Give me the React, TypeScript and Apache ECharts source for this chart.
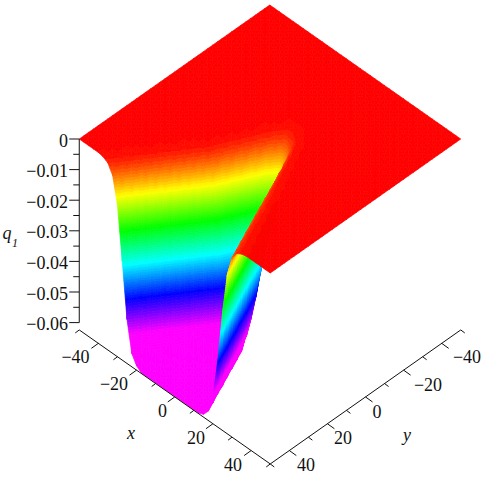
import React, { useEffect, useRef } from "react";
import * as echarts from "echarts";

// Surface samples: q1 depth in units of 0.001 on a 2.5-spaced grid.
const gridX = Array.from({ length: 41 }, (_, i) => -50 + 2.5 * i);
const gridY = Array.from({ length: 41 }, (_, j) => -50 + 2.5 * j);
const floorDepth = 62.2;
const depthUnit = 0.001;
const rowY = [50, 47.5, 45, 42.5, 40, 37.5, 35, 32.5, 30, 27.5, 25, 22.5, 20, 17.5, 15, 12.5, 10, 7.5, 5, 2.5, 0, -2.5, -5, -7.5, -10];
// each row: [first x index, depths...] wall stretches; floorDepth lies between two stretches, 0 elsewhere
const rowWalls: number[][][] = [
  [[5, 0.35, 1.3, 4.3, 12.8, 30, 48, 58, 61], [26, 61.5, 59.4, 53.8, 41, 24, 10.5, 3.8, 1.3, 0.4]],
  [[6, 0.5, 1.8, 6, 17.4, 36, 52, 59], [26, 60.8, 57.6, 49.4, 35, 17.4, 6.9, 2.3, 0.8, 0.3]],
  [[7, 0.75, 2.6, 8.5, 22.4, 42, 55, 60], [26, 59.8, 55, 42.8, 26, 11.8, 4.3, 1.5, 0.5]],
  [[7, 0.3, 1, 3.8, 11.4, 28, 47, 57, 61], [25, 61, 58, 51, 36.6, 19.2, 7.8, 2.6, 0.9, 0.3]],
  [[8, 0.4, 1.6, 5.3, 15.6, 34, 51, 59, 61], [25, 60.1, 55.2, 45, 28.9, 13.3, 5, 1.7, 0.6]],
  [[9, 0.65, 2.2, 7.3, 20, 40, 54, 60], [24, 61.2, 58.8, 52.3, 38, 21, 8.9, 3, 1, 0.3]],
  [[10, 0.9, 3.2, 10, 25.8, 45, 56, 61], [24, 60.5, 56.5, 47.2, 31, 15.2, 5.6, 1.9, 0.7]],
  [[10, 0.35, 1.4, 4.6, 13.6, 31, 49, 58, 61], [23, 61.4, 59.2, 53.2, 40.6, 23, 10, 3.6, 1.2, 0.4]],
  [[11, 0.55, 1.9, 6.4, 18.3, 37, 53, 59], [23, 60.7, 57.1, 48.5, 33, 16.7, 6.5, 2.1, 0.8]],
  [[12, 0.8, 2.7, 9, 23.3, 43, 55, 60], [22, 61.7, 59.7, 54.3, 42.4, 25, 11.2, 4, 1.4, 0.5]],
  [[12, 0.3, 1.1, 4, 12, 29, 47, 57, 61], [22, 60.9, 58, 50, 35.6, 18.4, 7.4, 2.5, 0.9]],
  [[13, 0.5, 1.7, 5.7, 16.3, 35, 51, 59], [21, 61.8, 60, 55.1, 44.4, 27.5, 12.5, 4.8, 1.6, 0.5]],
  [[14, 0.7, 2.3, 7.8, 21, 40, 54, 60], [21, 61.2, 58.5, 51.2, 37.5, 20.3, 8.4, 3, 1, 0.3]],
  [[15, 1.1, 4, 14, 31, 48, 58, 58, 54, 46, 31, 15.2, 5.5, 1.8, 0.6]],
  [[15, 0.8, 2.3, 8, 21, 40, 54, 57, 50, 40, 26, 10.8, 3.5, 1, 0.3]],
  [[16, 1.3, 4, 14, 31, 47, 50, 44, 34, 20, 7, 2, 0.5]],
  [[16, 0.8, 2.3, 8, 21, 38, 44, 37, 28, 14, 4.1, 1.1, 0.2]],
  [[17, 1.3, 4, 14, 29, 37, 30, 20, 9.1, 2.2, 0.5]],
  [[17, 0.8, 2.3, 8, 20, 28, 27, 14, 5.2, 1.2, 0.2]],
  [[18, 1.3, 4, 13.7, 23, 22, 10, 2.6, 0.5]],
  [[18, 0.8, 2.3, 7.8, 15, 15, 5.5, 1.2, 0.2]],
  [[18, 0.3, 1.3, 3.8, 9.5, 7.5, 2.6, 0.5]],
  [[19, 0.8, 2, 4.2, 3, 1, 0.2]],
  [[20, 1, 1.3, 0.9, 0.35]],
  [[20, 0.5, 0.4, 0.2]],
];

const xyMajor = [-40, -20, 0, 20, 40];
const xyMinor = [-50, -30, -10, 10, 30, 50];
const xTickLabels = ["−40", "−20", "0", "20", "40"];
const yTickLabels = ["−40", "−20", "0", "20", "40"];
const xyLabelPos = { x: [[75.5, 357], [114, 384], [162.5, 411], [196, 438], [233, 465]], y: [[467, 357], [428, 385], [377, 412], [343, 438], [306, 465]] };
const zMajor = [0, -0.01, -0.02, -0.03, -0.04, -0.05, -0.06];
const zMinor = [-0.005, -0.015, -0.025, -0.035, -0.045, -0.055];
const zTickLabels = ["0", "−0.01", "−0.02", "−0.03", "−0.04", "−0.05", "−0.06"];

const FONT = '18px "Liberation Serif"';
const ITALIC = 'italic 18px "Liberation Serif"';
const INK = "#111";
const zBase = -0.0624;

const sx = (x: number, y: number) => 270 + 1.91 * x - 1.905 * y;
const sy = (x: number, y: number, z: number) => 139 + 1.34 * x + 1.34 * y - 3060 * z;

function buildDepth(): number[][] {
  const d = gridY.map(() => gridX.map(() => 0));
  rowY.forEach((y, k) => {
    const j = gridY.indexOf(y);
    const walls = rowWalls[k];
    walls.forEach((w) => w.slice(1).forEach((v, n) => { d[j][w[0] + n] = v; }));
    if (walls.length === 2) {
      for (let i = walls[0][0] + walls[0].length - 1; i < walls[1][0]; i++) d[j][i] = floorDepth;
    }
  });
  return d;
}
const depth = buildDepth();

type V = { x: number; y: number; d: number };
const hue = (d: number) => Math.min(300, d * 5.714);
const colorOf = (d: number) => `hsl(${hue(d).toFixed(1)},100%,50%)`;

function clip(poly: V[], level: number, keepAbove: boolean): V[] {
  const out: V[] = [];
  for (let n = 0; n < poly.length; n++) {
    const a = poly[n], b = poly[(n + 1) % poly.length];
    const ia = keepAbove ? a.d >= level : a.d <= level;
    const ib = keepAbove ? b.d >= level : b.d <= level;
    if (ia) out.push(a);
    if (ia !== ib) {
      const t = (level - a.d) / (b.d - a.d);
      out.push({ x: a.x + (b.x - a.x) * t, y: a.y + (b.y - a.y) * t, d: level });
    }
  }
  return out;
}

function triangleShapes(tri: V[], api: any): any[] {
  const ds = tri.map((v) => v.d);
  const lo = Math.min(...ds), hi = Math.max(...ds);
  const toPoints = (poly: V[]) =>
    poly.map((v) => api.coord([sx(v.x, v.y), sy(v.x, v.y, -v.d * depthUnit)]));
  const shape = (poly: V[], d: number) => ({
    type: "polygon",
    shape: { points: toPoints(poly) },
    style: { fill: colorOf(d), stroke: colorOf(d), lineWidth: 0.7 },
  });
  if (hi === lo || lo >= 53) return [shape(tri, (lo + hi) / 2)];
  const out: any[] = [];
  const step = 0.8;
  for (let a = Math.floor(lo / step) * step; a < hi; a += step) {
    let p = clip(tri, a, true);
    if (p.length < 3) continue;
    p = clip(p, a + step, false);
    if (p.length < 3) continue;
    out.push(shape(p, a + step / 2));
  }
  return out;
}

const cells: number[][] = [];
for (let s = 0; s <= 78; s++) {
  for (let i = 0; i < 40; i++) {
    const j = s - i;
    if (j >= 0 && j < 40) cells.push([i, j]);
  }
}

function renderCell(params: any, api: any) {
  const [i, j] = cells[params.dataIndex];
  const v = (a: number, b: number): V => ({ x: gridX[a], y: gridY[b], d: depth[b][a] });
  const right = [v(i, j), v(i + 1, j), v(i + 1, j + 1)];
  const left = [v(i, j), v(i, j + 1), v(i + 1, j + 1)];
  return { type: "group", children: [...triangleShapes(right, api), ...triangleShapes(left, api)] };
}

function renderAxes(_params: any, api: any) {
  const c = (px: number, py: number) => api.coord([px, py]);
  const line = (a: number[], b: number[]) => {
    const p = c(a[0], a[1]), q = c(b[0], b[1]);
    return { type: "line", shape: { x1: p[0], y1: p[1], x2: q[0], y2: q[1] }, style: { stroke: INK, lineWidth: 1 } };
  };
  const text = (t: string, px: number, py: number, font: string, align = "center") => {
    const p = c(px, py);
    return { type: "text", style: { text: t, x: p[0], y: p[1], font, fill: INK, align, verticalAlign: "middle" } };
  };
  const out: any[] = [];
  const zAt = (z: number) => sy(-50, 50, z);
  const zX = sx(-50, 50);
  out.push(line([zX, zAt(0)], [zX, zAt(-0.06)]));
  zMajor.forEach((z, n) => {
    out.push(line([zX - 10, zAt(z)], [zX, zAt(z)]));
    out.push(text(zTickLabels[n], 68, zAt(z) + 1.5, FONT, "right"));
  });
  zMinor.forEach((z) => out.push(line([zX - 6, zAt(z)], [zX, zAt(z)])));
  const xP = (x: number) => [sx(x, 50), sy(x, 50, zBase)];
  const yP = (y: number) => [sx(50, y), sy(50, y, zBase)];
  out.push(line(xP(-50), xP(50)));
  out.push(line(yP(50), yP(-50)));
  xyMajor.forEach((t, n) => {
    const a = xP(t), b = yP(t);
    out.push(line(a, [a[0] - 7, a[1] + 5]));
    out.push(line(b, [b[0] + 7, b[1] + 5]));
    out.push(text(xTickLabels[n], xyLabelPos.x[n][0], xyLabelPos.x[n][1], FONT));
    out.push(text(yTickLabels[n], xyLabelPos.y[n][0], xyLabelPos.y[n][1], FONT));
  });
  xyMinor.forEach((t) => {
    const a = xP(t), b = yP(t);
    out.push(line(a, [a[0] - 4, a[1] + 3]));
    out.push(line(b, [b[0] + 4, b[1] + 3]));
  });
  out.push(text("x", 131, 433, ITALIC));
  out.push(text("y", 407, 435, ITALIC));
  out.push(text("q", 7, 233, ITALIC));
  out.push(text("1", 15, 243, 'italic 12px "Liberation Serif"'));
  return { type: "group", children: out };
}

export default function App() {
  const ref = useRef<HTMLDivElement>(null);
  useEffect(() => {
    if (!ref.current) return;
    document.body.style.margin = "0";
    const chart = echarts.init(ref.current, undefined, { renderer: "svg" });
    chart.setOption({
      animation: false,
      backgroundColor: "#fff",
      grid: { left: 0, top: 0, width: 485, height: 481 },
      xAxis: { type: "value", min: 0, max: 485, show: false },
      yAxis: { type: "value", min: 0, max: 481, inverse: true, show: false },
      tooltip: { show: false },
      series: [
        { type: "custom", coordinateSystem: "cartesian2d", silent: true, clip: false, progressive: 0, renderItem: renderCell, data: cells.map((_, n) => [n, n]), encode: { x: 0, y: 1 } },
        { type: "custom", coordinateSystem: "cartesian2d", silent: true, clip: false, renderItem: renderAxes, data: [[0, 0]], encode: { x: 0, y: 1 }, z: 5 },
      ],
    });
    return () => chart.dispose();
  }, []);
  return <div ref={ref} style={{ width: 485, height: 481 }} />;
}
